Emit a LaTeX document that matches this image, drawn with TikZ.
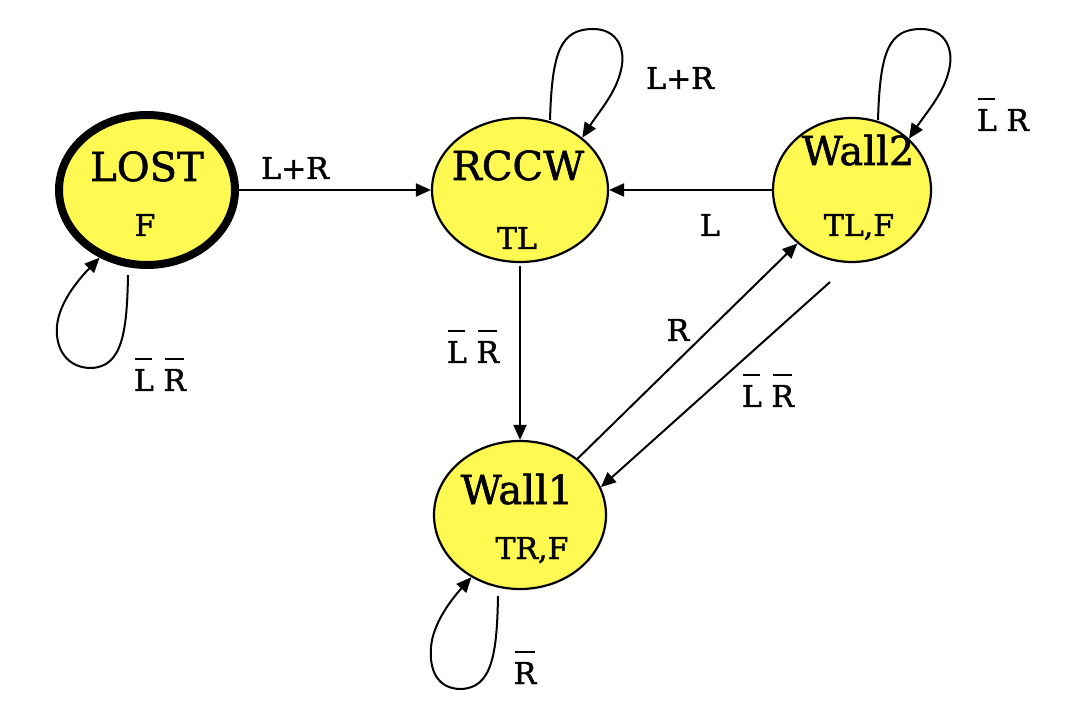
\documentclass[tikz,border=0pt]{standalone}
\usepackage{fontspec}
\setmainfont{DejaVu Serif}[FakeBold=1.4]
\usetikzlibrary{shapes.geometric,arrows.meta}
\definecolor{stateyellow}{RGB}{255,249,82}
\newcommand\stfont{\fontsize{40}{48}\selectfont}
\newcommand\smfont{\fontsize{30}{36}\selectfont}
\newcommand\ovl[1]{\setbox0=\hbox{#1}\vbox{\offinterlineskip\hbox to \wd0{\hss\vrule width 0.85\wd0 height 1.8pt depth 0pt\hss}\kern 9pt\box0}}
\begin{document}
\begin{tikzpicture}[x=1pt,y=1pt,
  state/.style={ellipse, draw, fill=stateyellow, line width=2.2pt, inner sep=0pt},
  stname/.style={anchor=base, inner sep=0pt, font=\stfont},
  sttext/.style={anchor=base, inner sep=0pt, font=\smfont},
  elabel/.style={anchor=base, inner sep=0pt, font=\smfont},
  arr/.style={line width=2pt, -{Triangle[length=15pt,width=13pt]}}]
\useasboundingbox (0,0) rectangle (1070,718);

% states
\node[state, line width=8pt, minimum width=176pt, minimum height=150pt] (lost) at (147,528) {};
\node[state, minimum width=176pt, minimum height=144pt] (rccw) at (520,528) {};
\node[state, minimum width=158pt, minimum height=144pt] (wall2) at (852,528) {};
\node[state, minimum width=172pt, minimum height=148pt] (wall1) at (520,203) {};

% state texts
\node[stname] (lostname) at (147,537) {LOST};
\node[sttext] (lostout) at (145,482) {F};
\node[stname] (rccwname) at (518,538) {RCCW};
\node[sttext] (rccwout) at (517,469) {TL};
\node[stname] (wall2name) at (858,553) {Wall2};
\node[sttext] (wall2out) at (859,482) {TL,F};
\node[stname] (wall1name) at (517,214) {Wall1};
\node[sttext] (wall1out) at (532,159) {TR,F};

% straight transitions
\draw[arr] (lost) -- (rccw);
\draw[arr] (wall2) -- (rccw);
\draw[arr, shorten <=3pt] (rccw) -- (wall1);
\draw[arr] (wall1) -- (wall2);
\coordinate (w2b) at (830,436);
\draw[arr] (w2b) -- (wall1.19);

% self loops
\coordinate (lostA) at (128,443);
\draw[arr] (lostA) .. controls (127,385) and (122,351) .. (91,350)
  .. controls (68,350) and (55,368) .. (57,392)
  .. controls (59,415) and (78,438) .. (lost.235);
\coordinate (wall1A) at (498,122);
\draw[arr] (wall1A) .. controls (497,64) and (492,30) .. (461,29)
  .. controls (438,29) and (429,47) .. (431,71)
  .. controls (433,94) and (450,117) .. (wall1.232);
\coordinate (rccwA) at (550,598);
\draw[arr] (rccwA) .. controls (552,665) and (560,689) .. (593,689)
  .. controls (618,689) and (626,668) .. (621,648)
  .. controls (616,625) and (598,605) .. (rccw.40);
\coordinate (wall2A) at (878,598);
\draw[arr] (wall2A) .. controls (880,665) and (888,689) .. (921,689)
  .. controls (946,689) and (954,668) .. (949,648)
  .. controls (944,625) and (926,605) .. (wall2.42);

% transition labels
\node[elabel] (l1) at (295,539) {L+R};
\node[elabel] (l2) at (710,482) {L};
\node[elabel] (l3) at (473,355) {\ovl{L} \ovl{R}};
\node[elabel] (l4) at (678,377) {R};
\node[elabel] (l5) at (768,311) {\ovl{L} \ovl{R}};
\node[elabel] (l6) at (160,327) {\ovl{L} \ovl{R}};
\node[elabel] (l7) at (680,629) {L+R};
\node[elabel] (l8) at (1003,587) {\ovl{L} R};
\node[elabel] (l9) at (525,34) {\ovl{R}};
\end{tikzpicture}
\end{document}
